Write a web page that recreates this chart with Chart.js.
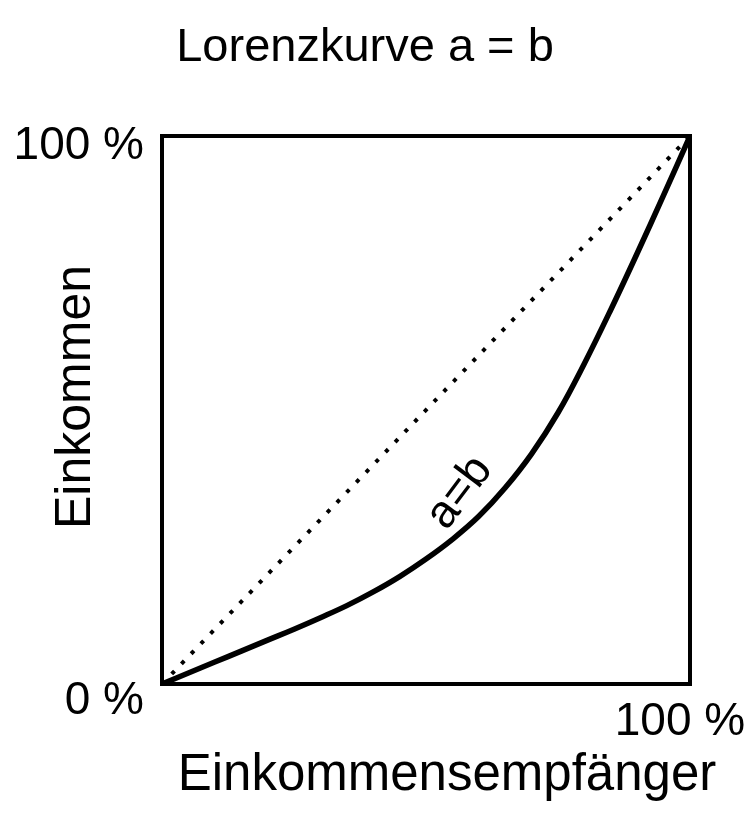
<!DOCTYPE html>
<html>
<head>
<meta charset="utf-8">
<script src="https://cdn.jsdelivr.net/npm/chart.js@4"></script>
<style>
  html, body { margin: 0; padding: 0; background: #ffffff; }
  #wrap { width: 750px; height: 820px; }
</style>
</head>
<body>
<div id="wrap"><canvas id="c" width="750" height="820"></canvas></div>
<script>
// ---- data ----
const chartTitle = 'Lorenzkurve a = b';
const xAxisTitle = 'Einkommensempfänger';
const yAxisTitle = 'Einkommen';
const curveLabel = 'a=b';
const recipientsShare = [0, 5, 10, 15, 20, 25, 30, 35, 40, 45, 50, 55, 60, 65, 70, 75, 80, 85, 90, 95, 100];
const incomeShare     = [0, 2, 4, 6, 8, 10, 12.1, 14.3, 16.8, 19.6, 22.8, 26.4, 30.6, 35.8, 42, 49.5, 58.5, 68.3, 78.6, 89.2, 100];
const equalityX = [0, 100];
const equalityY = [0, 100];
const yTickValues = [0, 100];
const yTickLabels = ['0 %', '100 %'];
const xTickValues = [100];
const xTickLabels = ['100 %'];
const curveLabelPos = [56.4, 34.9];

const FONT = '"Liberation Sans", Arial, sans-serif';

const textPlugin = {
  id: 'texts',
  beforeDatasetsDraw(chart) {
    const {ctx, chartArea: a} = chart;
    ctx.save();
    ctx.strokeStyle = '#000';
    ctx.lineWidth = 4;
    ctx.strokeRect(a.left, a.top, a.right - a.left, a.bottom - a.top);
    ctx.restore();
  },
  afterDraw(chart) {
    const {ctx, chartArea: a, scales} = chart;
    const xs = scales.x, ys = scales.y;
    ctx.save();
    ctx.fillStyle = '#000';
    // title
    ctx.font = '47px ' + FONT;
    ctx.textAlign = 'center';
    ctx.textBaseline = 'alphabetic';
    ctx.fillText(chartTitle, 365, 61);
    // y tick labels
    ctx.font = '46px ' + FONT;
    ctx.textAlign = 'right';
    yTickValues.forEach((v, i) => {
      const py = ys.getPixelForValue(v);
      const dy = v === 0 ? 30 : 23;
      ctx.fillText(yTickLabels[i], a.left - 18, py + dy);
    });
    // x tick labels
    xTickValues.forEach((v, i) => {
      const px = xs.getPixelForValue(v);
      ctx.textAlign = 'center';
      ctx.fillText(xTickLabels[i], px - 10, ys.getPixelForValue(0) + 51);
    });
    // x axis title
    ctx.font = '51px ' + FONT;
    ctx.textAlign = 'center';
    ctx.fillText(xAxisTitle, 447, 790);
    // y axis title
    ctx.font = '50px ' + FONT;
    ctx.save();
    ctx.translate(90, 397);
    ctx.rotate(-Math.PI / 2);
    ctx.fillText(yAxisTitle, 0, 0);
    ctx.restore();
    // curve label
    ctx.save();
    ctx.font = '46px ' + FONT;
    ctx.translate(xs.getPixelForValue(curveLabelPos[0]), ys.getPixelForValue(curveLabelPos[1]));
    ctx.rotate(-53 * Math.PI / 180);
    ctx.textAlign = 'center';
    ctx.textBaseline = 'middle';
    ctx.fillText(curveLabel, 0, 0);
    ctx.restore();
    ctx.restore();
  }
};

new Chart(document.getElementById('c'), {
  type: 'line',
  data: {
    datasets: [
      {
        label: 'Lorenzkurve',
        data: recipientsShare.map((x, i) => ({x, y: incomeShare[i]})),
        borderColor: '#000',
        borderWidth: 5.5,
        pointRadius: 0,
        tension: 0.4,
        borderJoinStyle: 'round',
        borderCapStyle: 'round',
        fill: false
      },
      {
        label: 'Gleichverteilung',
        data: equalityX.map((x, i) => ({x, y: equalityY[i]})),
        borderColor: '#000',
        borderWidth: 4,
        borderDash: [4, 10],
        pointRadius: 0,
        fill: false
      }
    ]
  },
  options: {
    responsive: false,
    animation: false,
    devicePixelRatio: 1,
    layout: { padding: { left: 162, top: 136, right: 60, bottom: 136 } },
    scales: {
      x: { type: 'linear', min: 0, max: 100, display: false },
      y: { type: 'linear', min: 0, max: 100, display: false }
    },
    plugins: { legend: { display: false }, tooltip: { enabled: false }, title: { display: false } }
  },
  plugins: [textPlugin]
});
</script>
</body>
</html>
